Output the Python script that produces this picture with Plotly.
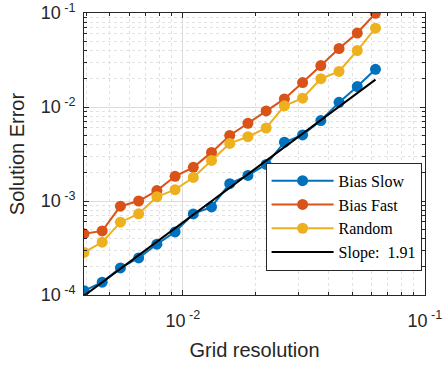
import numpy as np
import plotly.graph_objects as go

# Grid resolution h = 2^(-8 + k/4), k = 0..16
grid_exponents = [-8 + k / 4 for k in range(17)]
grid_resolution = [2.0 ** e for e in grid_exponents]

bias_slow = [1.11e-4, 1.37e-4, 1.94e-4, 2.48e-4, 3.47e-4, 4.69e-4, 7.29e-4, 8.65e-4,
             1.53e-3, 1.87e-3, 2.45e-3, 4.22e-3, 5.05e-3, 7.18e-3, 1.12e-2, 1.65e-2, 2.52e-2]
bias_fast = [4.47e-4, 4.81e-4, 8.81e-4, 1.00e-3, 1.29e-3, 1.83e-3, 2.28e-3, 3.29e-3,
             4.98e-3, 6.71e-3, 9.09e-3, 1.22e-2, 1.82e-2, 2.76e-2, 4.19e-2, 6.12e-2, 9.93e-2]
random_err = [2.84e-4, 3.65e-4, 5.95e-4, 7.30e-4, 1.11e-3, 1.32e-3, 1.78e-3, 2.70e-3,
              4.10e-3, 4.83e-3, 5.98e-3, 1.03e-2, 1.24e-2, 2.00e-2, 2.39e-2, 3.99e-2, 6.89e-2]

slope = 1.91
slope_start_error = 9.8e-5  # error of the fitted line at the finest grid

slope_x = [grid_resolution[0], grid_resolution[-1]]
slope_y = [slope_start_error * (x / grid_resolution[0]) ** slope for x in slope_x]

x_tick_vals = [1e-2, 1e-1]
x_tick_text = ["10<sup> -2</sup>", "10<sup> -1</sup>"]
y_tick_vals = [1e-4, 1e-3, 1e-2, 1e-1]
y_tick_text = ["10<sup> -4</sup>", "10<sup> -3</sup>", "10<sup> -2</sup>", "10<sup> -1</sup>"]

colors = ["#0072BD", "#D95319", "#EDB120"]

fig = go.Figure()
for name, vals, c in [("Bias Slow", bias_slow, colors[0]),
                      ("Bias Fast", bias_fast, colors[1]),
                      ("Random", random_err, colors[2])]:
    fig.add_trace(go.Scatter(x=grid_resolution, y=vals, name=name, mode="lines+markers",
                             line=dict(color=c, width=2),
                             marker=dict(color=c, size=11)))
fig.add_trace(go.Scatter(x=slope_x, y=slope_y, name="Slope:  %.2f" % slope, mode="lines",
                         line=dict(color="black", width=2)))

axis_common = dict(
    type="log", showline=True, linecolor="#262626", linewidth=1, mirror="allticks",
    ticks="inside", ticklen=5, tickcolor="#262626", automargin=False,
    showgrid=True, gridcolor="#dcdcdc", gridwidth=1,
    tickfont=dict(family="Liberation Sans, Arial", size=18, color="#262626"),
    minor=dict(dtick="D1", ticks="inside", ticklen=3, tickcolor="#262626",
               showgrid=True, gridcolor="#e2e2e2", griddash="dot", gridwidth=1),
    zeroline=False,
)

fig.update_xaxes(**axis_common, range=[np.log10(grid_resolution[0]), -0.9995],
                 tickmode="array", tickvals=x_tick_vals, ticktext=x_tick_text,
                 ticklabelstandoff=9, ticklabeloverflow="allow",
                 title=dict(text="Grid resolution", standoff=13,
                            font=dict(family="Liberation Sans, Arial", size=20, color="#262626")))
fig.update_yaxes(**axis_common, range=[-4, -1],
                 tickmode="array", tickvals=y_tick_vals, ticktext=y_tick_text,
                 ticklabelstandoff=4,
                 title=dict(text="Solution Error", standoff=10,
                            font=dict(family="Liberation Sans, Arial", size=20, color="#262626")))

fig.update_layout(
    width=442, height=365,
    margin=dict(l=84, r=17, t=13, b=70),
    paper_bgcolor="white", plot_bgcolor="white",
    showlegend=True,
    legend=dict(x=0.99, y=0.086, xanchor="right", yanchor="bottom",
                bgcolor="white", bordercolor="#262626", borderwidth=1,
                font=dict(family="Liberation Serif, Times New Roman", size=16, color="#000000"),
                tracegroupgap=0, itemwidth=62),
)

fig.write_html("out.html")
